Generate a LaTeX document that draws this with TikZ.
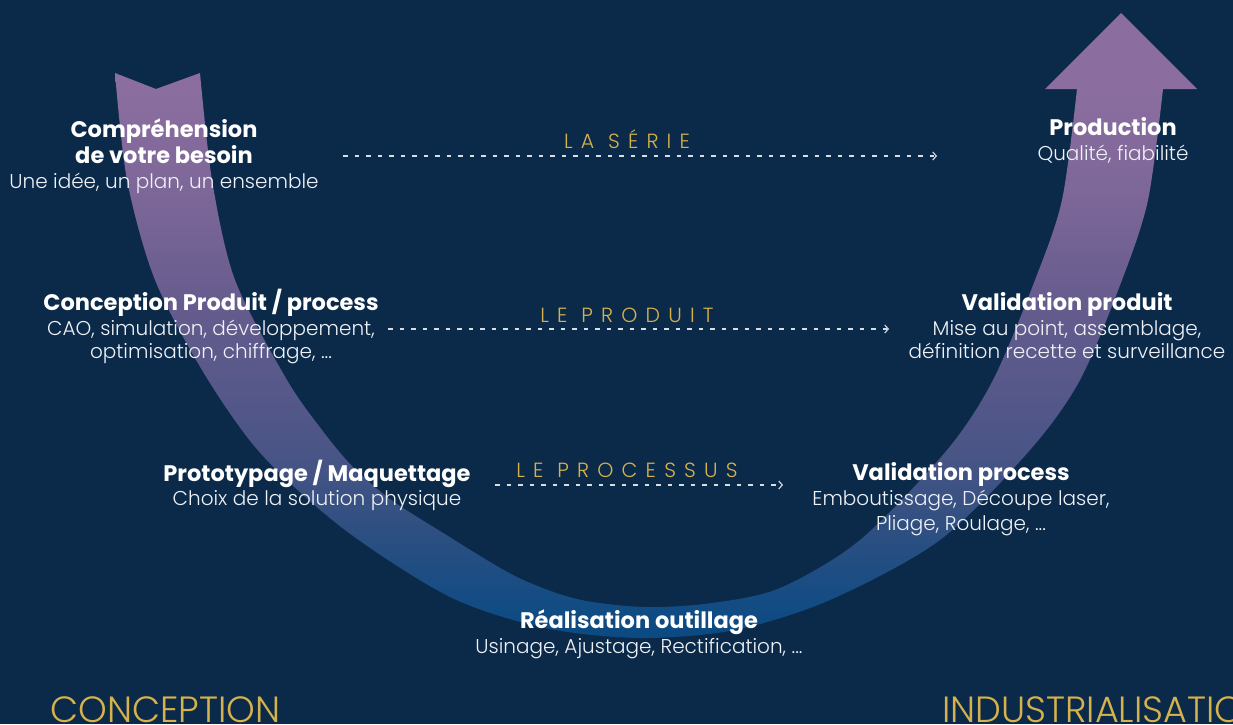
\documentclass[tikz,border=0pt]{standalone}
\usepackage{fontspec}
\setmainfont{Poppins}
\newfontfamily\lightfont{Poppins Light}
\newfontfamily\spacedfont{Poppins Light}[LetterSpace=40]
\usetikzlibrary{arrows.meta}
\definecolor{bg}{HTML}{0B2A4A}
\definecolor{gold}{HTML}{D6B24C}
\definecolor{txt}{HTML}{EEF1F5}
\definecolor{dashc}{HTML}{D8DDE4}
\definecolor{cTop}{HTML}{8B6E9F}
\definecolor{cA}{HTML}{7C6698}
\definecolor{cB}{HTML}{675C8E}
\definecolor{cC}{HTML}{4A5586}
\definecolor{cD}{HTML}{2E4F81}
\definecolor{cE}{HTML}{134C83}
\definecolor{cBot}{HTML}{0B4A82}
\pgfdeclareverticalshading{arrowshade}{100bp}{color(0bp)=(cBot); color(25bp)=(cBot); color(28bp)=(cE); color(33.6bp)=(cD); color(40bp)=(cC); color(52bp)=(cB); color(60bp)=(cA); color(69bp)=(cTop); color(100bp)=(cTop)}
\begin{document}
\begin{tikzpicture}[x=1pt,y=-1pt,
  ttl/.style={font=\fontsize{22.5}{26}\selectfont\bfseries, text=white, anchor=base, inner sep=0pt},
  sub/.style={font=\lightfont\fontsize{20}{24}\selectfont, text=txt, anchor=base, inner sep=0pt},
  lbl/.style={font=\spacedfont\fontsize{20.5}{24}\selectfont, text=gold, anchor=base, inner sep=0pt},
  big/.style={font=\lightfont\fontsize{36.5}{40}\selectfont, text=gold, anchor=base west, inner sep=0pt},
  dasharrow/.style={draw=dashc, line width=1.1pt, dash pattern=on 4.5pt off 7pt, -{Straight Barb[length=3.5pt,width=8pt,line width=1.1pt]}}]
\fill[bg] (0,0) rectangle (1233,724);
\useasboundingbox (0,0) rectangle (1233,724);
% big U arrow
\path[shading=arrowshade]
  plot[smooth] coordinates {(115,73) (127,180) (155,280) (205,375) (262,455) (345,530) (450,597) (545,628) (640,638) (735,630) (830,600) (940,540) (1030,450) (1080,380) (1122,280) (1148,200) (1163,89)}
  -- (1197,89) -- (1121,13) -- (1045,89) -- (1077,89)
  -- plot[smooth] coordinates {(1077,89) (1062,200) (1035,280) (993,380) (947,450) (860,540) (780,588) (712,603) (645,607) (577,599) (515,576) (440,531) (390,499) (352,466) (322,430) (287,380) (235,280) (212,180) (200,73)}
  -- (156,89) -- cycle;
% dashed connectors
\coordinate (s1) at (343,156); \coordinate (e1) at (937,156);
\coordinate (s2) at (388,329); \coordinate (e2) at (889,329);
\coordinate (s3) at (495,485); \coordinate (e3) at (783,485);
\draw[dasharrow] (s1) -- (e1);
\draw[dasharrow] (s2) -- (e2);
\draw[dasharrow] (s3) -- (e3);
\node[lbl] (l1) at (627,148) {LA SÉRIE};
\node[lbl] (l2) at (627,322) {LE PRODUIT};
\node[lbl] (l3) at (627,477) {LE PROCESSUS};
% group 1
\node[ttl] (g1a) at (164,137) {Compréhension};
\node[ttl] (g1b) at (164,163) {de votre besoin};
\node[sub] (g1c) at (164,188) {Une idée, un plan, un ensemble};
% group 2
\node[ttl] (g2a) at (211,310) {Conception Produit / process};
\node[sub] (g2b) at (211,335) {CAO, simulation, développement,};
\node[sub] (g2c) at (211,358) {optimisation, chiffrage, ...};
% group 3
\node[ttl] (g3a) at (317,481) {Prototypage / Maquettage};
\node[sub] (g3b) at (317,505) {Choix de la solution physique};
% group 4
\node[ttl] (g4a) at (639,628) {Réalisation outillage};
\node[sub] (g4b) at (639,653) {Usinage, Ajustage, Rectification, ...};
% group 5
\node[ttl] (g5a) at (961,480) {Validation process};
\node[sub] (g5b) at (961,505) {Emboutissage, Découpe laser,};
\node[sub] (g5c) at (961,530) {Pliage, Roulage, ...};
% group 6
\node[ttl] (g6a) at (1067,310) {Validation produit};
\node[sub] (g6b) at (1067,335) {Mise au point, assemblage,};
\node[sub] (g6c) at (1067,358) {définition recette et surveillance};
% group 7
\node[ttl] (g7a) at (1113,135) {Production};
\node[sub] (g7b) at (1113,160) {Qualité, fiabilité};
% bottom words
\node[big] (b1) at (50,722) {CONCEPTION};
\node[big] (b2) at (942,722) {INDUSTRIALISATION};
\end{tikzpicture}
\end{document}
